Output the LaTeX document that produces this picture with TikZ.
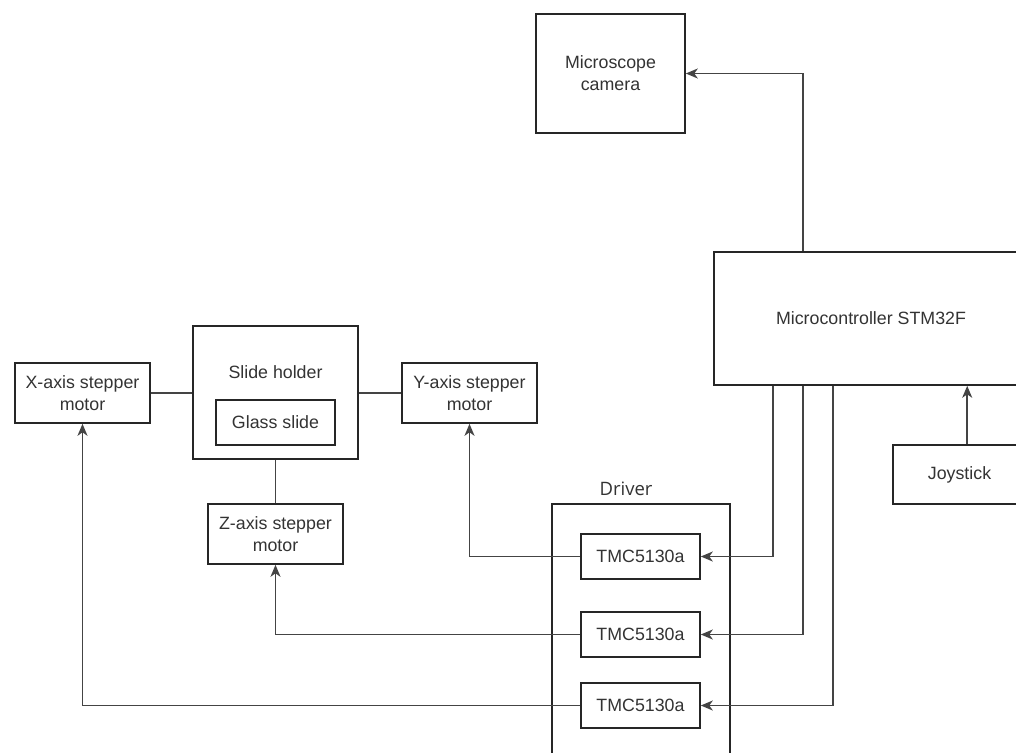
\documentclass[tikz,border=0pt]{standalone}
\usepackage{fontspec}
\setmainfont{Liberation Sans}
\newfontfamily\driverfont{Open Sans}
\usetikzlibrary{arrows.meta,calc}
\definecolor{boxline}{HTML}{262626}
\definecolor{connline}{HTML}{444444}
\definecolor{txt}{HTML}{333333}
\tikzset{
  blk/.style={draw=boxline,line width=1.6pt,rectangle,inner sep=0pt,align=center,
    text=txt,font=\fontsize{17.8}{22}\selectfont},
  lbl/.style={inner sep=0pt,align=center,text=txt,font=\fontsize{17.8}{22}\selectfont},
  conn/.style={draw=connline,line width=1.6pt},
  arr/.style={conn,-{Stealth[length=12pt,width=10pt,inset=3.5pt]}}
}
\begin{document}
\begin{tikzpicture}[x=1pt,y=-1pt]
\useasboundingbox (0,0) rectangle (1016,752);
\clip (0,0) rectangle (1016,752);
% blocks
\node[blk,minimum width=149pt,minimum height=119pt] (cam) at (610.5,73.5) {Microscope\\camera};
\node[blk,minimum width=314pt,minimum height=133pt] (mc) at (871,318.5) {Microcontroller STM32F};
\node[blk,minimum width=133pt,minimum height=59pt] (joy) at (959.5,474.5) {Joystick};
\node[blk,minimum width=135pt,minimum height=60pt] (xm) at (82.5,393) {X-axis stepper\\motor};
\node[blk,minimum width=165pt,minimum height=133pt] (sh) at (275.5,392.5) {};
\node[lbl] (shl) at (275.5,372) {Slide holder};
\node[blk,minimum width=119pt,minimum height=45pt] (gs) at (275.5,422.5) {Glass slide};
\node[blk,minimum width=135pt,minimum height=60pt] (ym) at (469.5,393) {Y-axis stepper\\motor};
\node[blk,minimum width=135pt,minimum height=60pt] (zm) at (275.5,534) {Z-axis stepper\\motor};
\node[blk,minimum width=178pt,minimum height=270pt] (drv) at (641,639) {};
\node[inner sep=0pt,text=txt,font=\driverfont\fontsize{18.5}{22}\selectfont] (drvl) at (626,489) {Driver};
\node[blk,minimum width=119pt,minimum height=45pt] (t1) at (640.5,556.5) {TMC5130a};
\node[blk,minimum width=119pt,minimum height=45pt] (t2) at (640.5,634.5) {TMC5130a};
\node[blk,minimum width=119pt,minimum height=45pt] (t3) at (640.5,705.5) {TMC5130a};
% connection points
\coordinate (mctop) at ($(mc.north west)+(90,0)$);
\coordinate (mcb1) at ($(mc.south west)+(60,0)$);
\coordinate (mcb2) at ($(mc.south west)+(90,0)$);
\coordinate (mcb3) at ($(mc.south west)+(120,0)$);
\coordinate (joyt) at ($(joy.north west)+(75,0)$);
% connectors
\draw[arr] (mctop) |- (cam.east);
\draw[arr] (mcb1) |- (t1.east);
\draw[arr] (mcb2) |- (t2.east);
\draw[arr] (mcb3) |- (t3.east);
\draw[arr] (joyt) -- (joyt |- mc.south);
\draw[arr] (t1.west) -| (ym.south);
\draw[arr] (t2.west) -| (zm.south);
\draw[arr] (t3.west) -| (xm.south);
\draw[conn] (xm.east) -- (xm.east -| sh.west);
\draw[conn] (ym.west -| sh.east) -- (ym.west);
\draw[conn] (sh.south) -- (zm.north);
\end{tikzpicture}
\end{document}
